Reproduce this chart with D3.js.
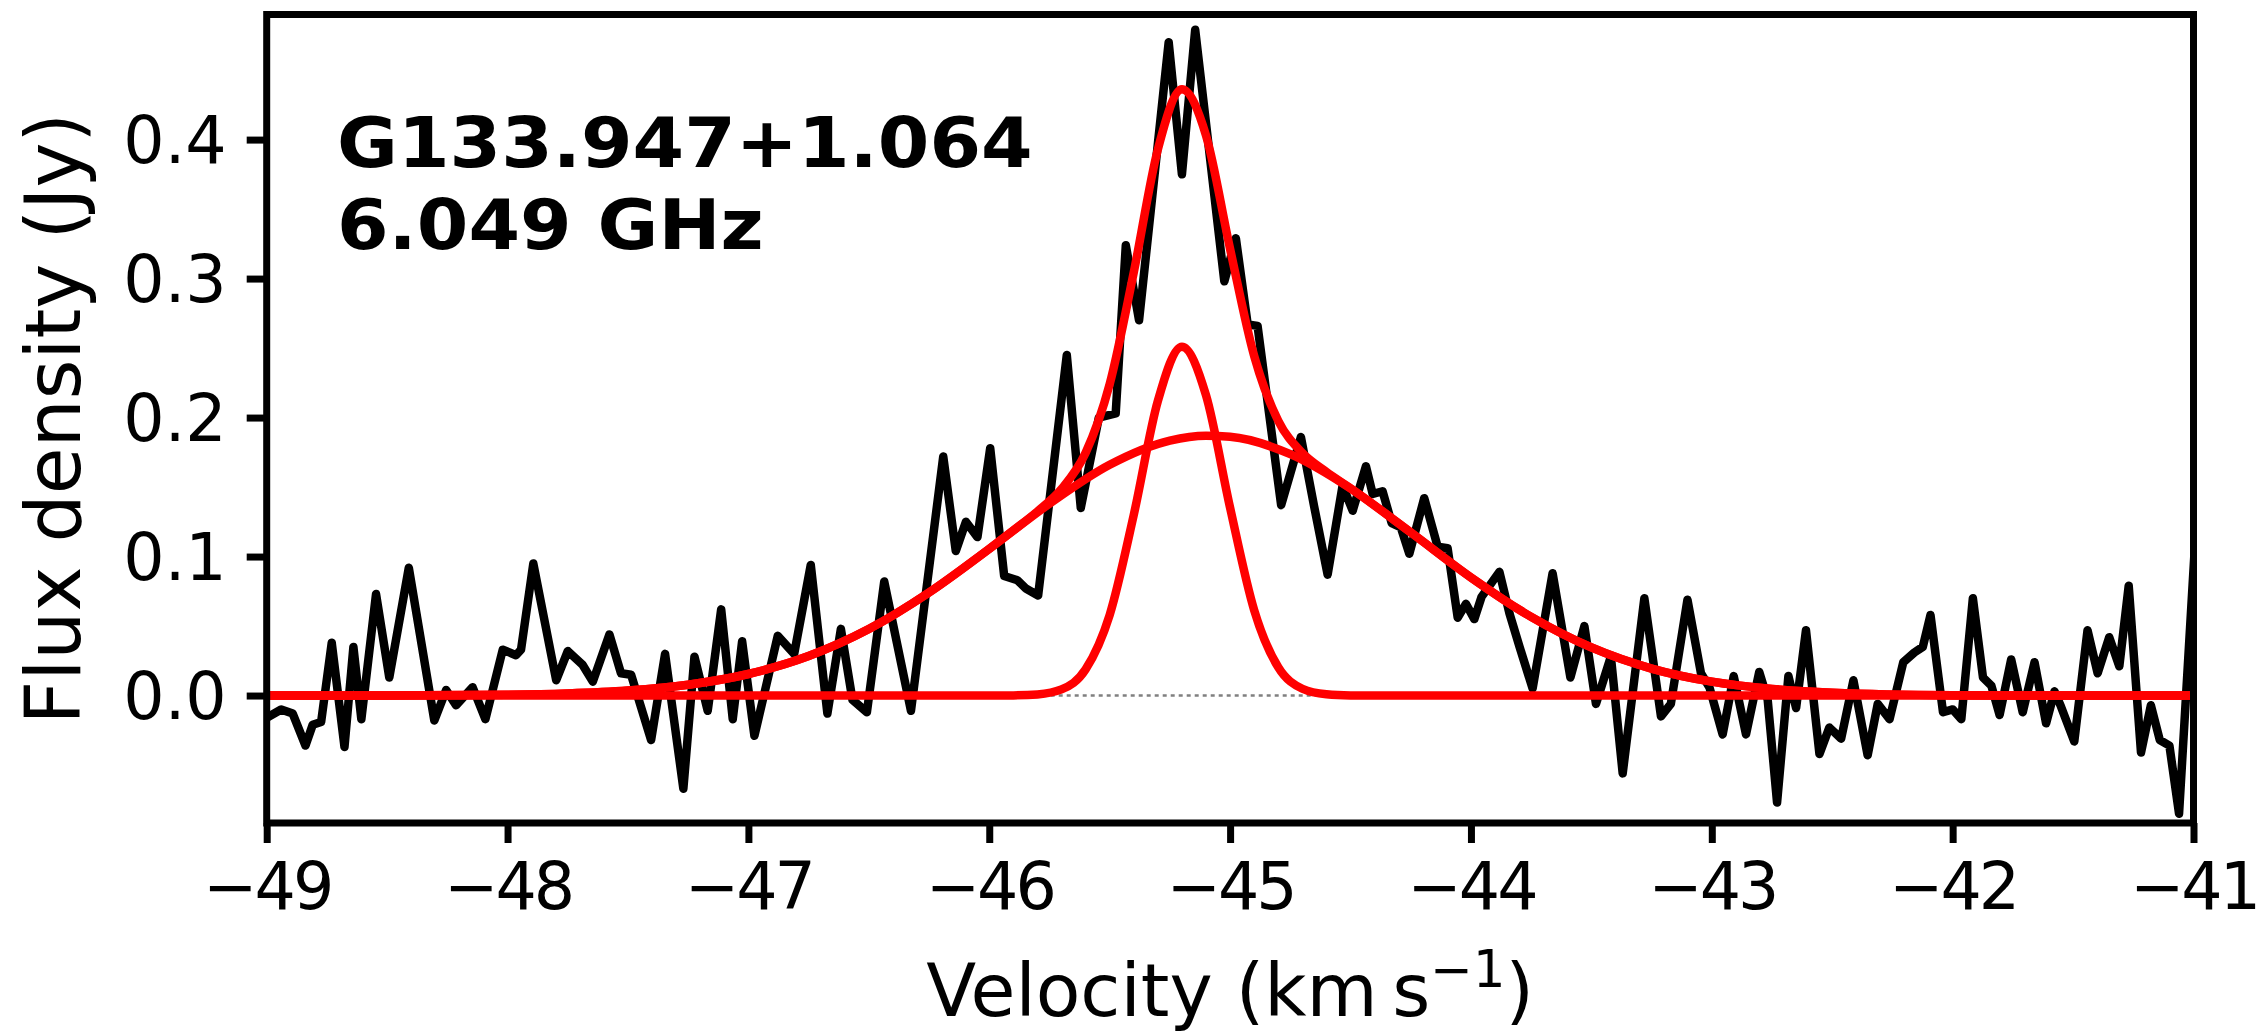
<!DOCTYPE html>
<html>
<head>
<meta charset="utf-8">
<script src="https://cdnjs.cloudflare.com/ajax/libs/d3/7.8.5/d3.min.js"></script>
<style>
  body { margin: 0; background: #fff; }
  svg { display: block; background: #fff; }
  text { font-family: "DejaVu Sans", sans-serif; fill: #000; }
</style>
</head>
<body>
<svg width="2257" height="1032"></svg>
<script>
    // spectrum (km/s, Jy)
    var velocity = [
      -49.000, -48.940, -48.892, -48.839, -48.809, -48.774, -48.730, -48.677, -48.640, -48.607,
      -48.546, -48.491, -48.410, -48.304, -48.255, -48.214, -48.145, -48.092, -48.020, -47.965,
      -47.944, -47.893, -47.798, -47.750, -47.688, -47.646, -47.577, -47.529, -47.487, -47.404,
      -47.346, -47.270, -47.224, -47.169, -47.113, -47.065, -47.026, -46.975, -46.878, -46.810,
      -46.741, -46.672, -46.616, -46.568, -46.508, -46.436, -46.325, -46.191, -46.139, -46.097,
      -46.049, -45.996, -45.938, -45.883, -45.848, -45.797, -45.678, -45.620, -45.545, -45.475,
      -45.433, -45.378, -45.255, -45.200, -45.145, -45.024, -44.976, -44.927, -44.886, -44.788,
      -44.706, -44.651, -44.595, -44.533, -44.491, -44.436, -44.408, -44.367, -44.329, -44.291,
      -44.256, -44.194, -44.138, -44.097, -44.055, -44.021, -43.986, -43.956, -43.882, -43.840,
      -43.798, -43.744, -43.661, -43.587, -43.529, -43.481, -43.419, -43.370, -43.280, -43.211,
      -43.170, -43.101, -43.045, -43.010, -42.955, -42.909, -42.858, -42.803, -42.768, -42.729,
      -42.682, -42.650, -42.609, -42.553, -42.512, -42.463, -42.412, -42.353, -42.311, -42.262,
      -42.205, -42.159, -42.124, -42.092, -42.040, -42.000, -41.964, -41.916, -41.874, -41.839,
      -41.805, -41.757, -41.709, -41.660, -41.612, -41.577, -41.550, -41.495, -41.440, -41.398,
      -41.350, -41.308, -41.269, -41.218, -41.177, -41.140, -41.100, -41.060, -40.990
    ];
    var flux = [
      -0.016, -0.010, -0.013, -0.036, -0.021, -0.019, 0.038, -0.037, 0.035, -0.017,
      0.073, 0.013, 0.092, -0.018, 0.004, -0.007, 0.006, -0.017, 0.033, 0.029,
      0.033, 0.095, 0.011, 0.032, 0.022, 0.010, 0.044, 0.016, 0.015, -0.032,
      0.030, -0.067, 0.028, -0.011, 0.062, -0.017, 0.039, -0.029, 0.043, 0.030,
      0.094, -0.013, 0.048, -0.003, -0.012, 0.082, -0.011, 0.172, 0.104, 0.125,
      0.114, 0.178, 0.086, 0.083, 0.077, 0.072, 0.245, 0.135, 0.200, 0.203,
      0.324, 0.270, 0.470, 0.375, 0.479, 0.298, 0.329, 0.267, 0.266, 0.137,
      0.186, 0.136, 0.087, 0.151, 0.133, 0.165, 0.145, 0.147, 0.124, 0.121,
      0.102, 0.142, 0.107, 0.106, 0.056, 0.066, 0.055, 0.071, 0.089, 0.059,
      0.035, 0.005, 0.088, 0.013, 0.050, -0.006, 0.028, -0.056, 0.070, -0.015,
      -0.006, 0.069, 0.016, 0.006, -0.028, 0.014, -0.028, 0.017, -0.003, -0.077,
      0.014, -0.009, 0.047, -0.042, -0.023, -0.031, 0.011, -0.043, -0.006, -0.017,
      0.024, 0.031, 0.035, 0.058, -0.012, -0.010, -0.017, 0.070, 0.013, 0.007,
      -0.014, 0.026, -0.012, 0.024, -0.020, 0.003, -0.008, -0.033, 0.047, 0.016,
      0.042, 0.021, 0.079, -0.041, -0.007, -0.032, -0.036, -0.085, 0.120
    ];

    // gaussian fit components
    var narrowVel = [-49, -46.0, -45.9, -45.8, -45.7, -45.6, -45.5, -45.4, -45.3, -45.2,
      -45.1, -45.0, -44.9, -44.8, -44.7, -44.6, -44.5, -44.4, -41];
    var narrowFlux = [0, 0, 0.0001, 0.0008, 0.0044, 0.0188, 0.0580, 0.1300, 0.2119, 0.2510,
      0.2160, 0.1351, 0.0614, 0.0203, 0.0049, 0.0009, 0.0001, 0, 0];

    var broadVel = [-49, -48.5, -48, -47.75, -47.5, -47.25, -47, -46.75, -46.5, -46.25,
      -46, -45.75, -45.5, -45.25, -45.1, -45, -44.75, -44.5, -44.25, -44,
      -43.75, -43.5, -43.25, -43, -42.75, -42.5, -42, -41.5, -41];
    var broadFlux = [0.0000, 0.0001, 0.0006, 0.0015, 0.0036, 0.0078, 0.0155, 0.0284, 0.0478, 0.0741,
      0.1055, 0.1380, 0.1660, 0.1834, 0.1869, 0.1862, 0.1737, 0.1490, 0.1174, 0.0850,
      0.0566, 0.0346, 0.0194, 0.0100, 0.0048, 0.0021, 0.0003, 0.0000, 0.0000];

    var sumVel = [-49, -48.5, -48, -47.75, -47.5, -47.25, -47, -46.75, -46.5, -46.25,
      -46, -45.9, -45.8, -45.7, -45.6, -45.5, -45.4, -45.3, -45.2, -45.1,
      -45.0, -44.9, -44.8, -44.7, -44.6, -44.5, -44.25, -44, -43.75, -43.5,
      -43.25, -43, -42.75, -42.5, -42, -41.5, -41];
    var sumFlux = [0.0000, 0.0001, 0.0006, 0.0015, 0.0036, 0.0078, 0.0155, 0.0284, 0.0478, 0.0741,
      0.1055, 0.1188, 0.1325, 0.1486, 0.1746, 0.2240, 0.3045, 0.3929, 0.4362, 0.4029,
      0.3213, 0.2443, 0.1977, 0.1745, 0.1609, 0.1491, 0.1174, 0.0850, 0.0566, 0.0346,
      0.0194, 0.0100, 0.0048, 0.0021, 0.0003, 0.0000, 0.0000];

    var xTicks = [-49, -48, -47, -46, -45, -44, -43, -42, -41];
    var yTicks = [0.0, 0.1, 0.2, 0.3, 0.4];
    var sourceName = 'G133.947+1.064';
    var lineFreq = '6.049 GHz';

    var width = 2257;
    var height = 1032;
    var margin = {
      top: 14.5,
      bottom: 209,
      left: 266.7,
      right: 63.5
    }

    var xScale = d3.scaleLinear()
      .domain([-49, -41])
      .range([margin.left, width - margin.right])

    var yScale = d3.scaleLinear()
      .domain([-0.0917, 0.49])
      .range([height - margin.bottom, margin.top])

    var svg = d3.select('svg')

    svg.append('clipPath')
      .attr('id', 'plot-clip')
      .append('rect')
      .attr('x', margin.left)
      .attr('y', margin.top)
      .attr('width', width - margin.left - margin.right)
      .attr('height', height - margin.top - margin.bottom)

    var plot = svg.append('g').attr('clip-path', 'url(#plot-clip)')

    // dotted zero level
    plot.append('line')
      .attr('x1', xScale(-49))
      .attr('x2', xScale(-41))
      .attr('y1', yScale(0))
      .attr('y2', yScale(0))
      .attr('stroke', '#808080')
      .attr('stroke-width', 2.5)
      .attr('stroke-dasharray', '4 4')

    var line = d3.line()
      .x(d => xScale(d[0]))
      .y(d => yScale(d[1]))

    var smooth = d3.line()
      .x(d => xScale(d[0]))
      .y(d => yScale(d[1]))
      .curve(d3.curveMonotoneX)

    plot.append('path')
      .datum(d3.zip(velocity, flux))
      .attr('d', line)
      .attr('fill', 'none')
      .attr('stroke', '#000')
      .attr('stroke-width', 8.5)
      .attr('stroke-linejoin', 'round')

    var fits = [[narrowVel, narrowFlux], [broadVel, broadFlux], [sumVel, sumFlux]]

    plot.selectAll('path.fit')
      .data(fits)
      .enter().append('path')
      .attr('class', 'fit')
      .attr('d', d => smooth(d3.zip(d[0], d[1])))
      .attr('fill', 'none')
      .attr('stroke', '#ff0000')
      .attr('stroke-width', 8.5)
      .attr('stroke-linejoin', 'round')

    // frame
    svg.append('rect')
      .attr('x', margin.left)
      .attr('y', margin.top)
      .attr('width', width - margin.left - margin.right)
      .attr('height', height - margin.top - margin.bottom)
      .attr('fill', 'none')
      .attr('stroke', '#000')
      .attr('stroke-width', 7)

    var xAxis = d3.axisBottom(xScale)
      .tickValues(xTicks)
      .tickSize(20)
      .tickFormat(d3.format('d'))

    var yAxis = d3.axisLeft(yScale)
      .tickValues(yTicks)
      .tickSize(20)
      .tickFormat(d3.format('.1f'))

    var gx = svg.append('g')
      .attr('transform', 'translate(' + [0, height - margin.bottom] + ')')
      .call(xAxis)

    var gy = svg.append('g')
      .attr('transform', 'translate(' + [margin.left, 0] + ')')
      .call(yAxis)

    ;[gx, gy].forEach(g => {
      g.select('.domain').remove()
      g.selectAll('.tick line').attr('stroke', '#000').attr('stroke-width', 7)
      g.selectAll('.tick text')
        .attr('font-family', '"DejaVu Sans", sans-serif')
        .attr('font-size', 65)
        .attr('fill', '#000')
    })

    // tick labels sit a bit tighter than the plain font
    gx.selectAll('.tick text').attr('y', 86).attr('dy', 0).attr('letter-spacing', -3)
    gy.selectAll('.tick text').attr('x', -40).attr('dy', '0.36em')

    // source name and frequency (drawn slightly wide, as in the original)
    var label = svg.append('text')
      .attr('transform', 'translate(337,0) scale(1.06,1)')
      .attr('y', 167)
      .attr('font-size', 70)
      .attr('font-weight', 'bold')
    label.append('tspan').attr('x', 0).text(sourceName)
    label.append('tspan').attr('x', 0).attr('y', 249).text(lineFreq)

    // axis labels
    var xLabel = svg.append('text')
      .attr('x', (xScale.range()[0] + xScale.range()[1]) / 2)
      .attr('y', 1016)
      .attr('font-size', 73)
      .attr('text-anchor', 'middle')
    xLabel.append('tspan').text('Velocity (km\u2009s')
    xLabel.append('tspan').attr('font-size', 51).attr('dy', -29).text('\u22121')
    xLabel.append('tspan').attr('dy', 29).text(')')

    svg.append('text')
      .attr('transform', 'translate(' + [80, (yScale.range()[0] + yScale.range()[1]) / 2] + ') rotate(-90)')
      .attr('font-size', 76)
      .attr('text-anchor', 'middle')
      .text('Flux density (Jy)')
</script>
</body>
</html>
